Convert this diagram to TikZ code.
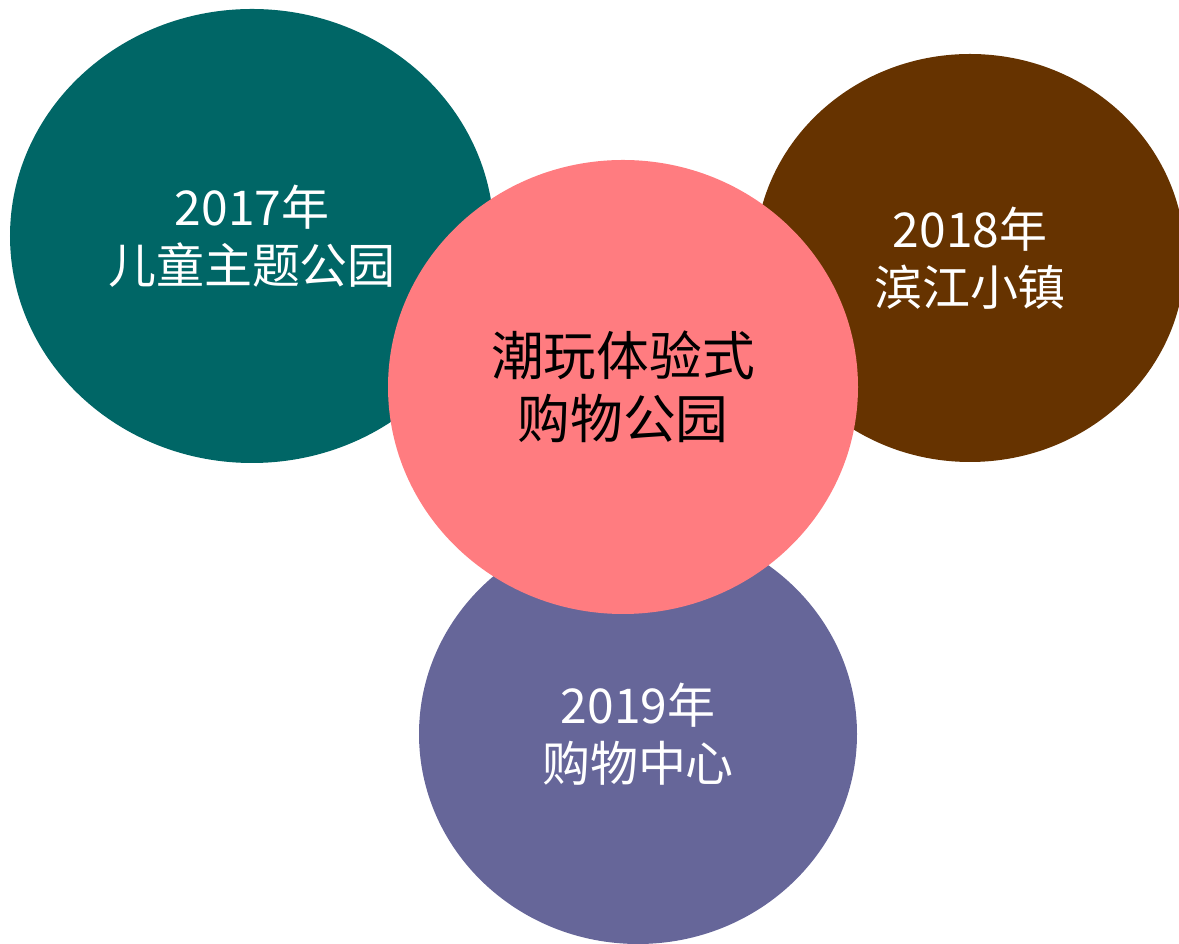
\documentclass[tikz,border=0pt]{standalone}
\usepackage{fontspec}
\setmainfont{Noto Sans CJK SC}
\usetikzlibrary{shapes.geometric}

\definecolor{parkteal}{HTML}{006666}
\definecolor{riverbrown}{HTML}{663300}
\definecolor{mallpurple}{HTML}{666699}
\definecolor{hubpink}{HTML}{FF7C80}

\begin{document}
\begin{tikzpicture}[
		stage/.style={ellipse, inner sep=0pt, draw=none, align=center, text=white,
			font=\fontsize{27.3pt}{33pt}\selectfont},
		hub/.style={stage, text=black, font=\fontsize{30pt}{35.8pt}\selectfont}
	]
		\useasboundingbox (0,0) rectangle (23.58,18.88);
		\clip (0,0) rectangle (23.58,18.88);

		\coordinate (c2017) at (5.04, 14.16);
		\coordinate (c2018) at (19.40, 13.72);
		\coordinate (c2019) at (12.76, 4.20);
		\coordinate (hub) at (12.46, 11.14);

		% draw the three stages
		\node at (c2017)[stage, fill=parkteal, minimum width=9.68cm, minimum height=9.08cm] (kids) {2017年\\儿童主题公园};
		\node at (c2018)[stage, fill=riverbrown, minimum width=8.6cm, minimum height=8.16cm] (town) {2018年\\滨江小镇};
		\node at (c2019)[stage, fill=mallpurple, minimum width=8.76cm, minimum height=8.4cm] (mall) {2019年\\购物中心};

		% draw the centre on top
		\node at (hub)[hub, fill=hubpink, minimum width=9.4cm, minimum height=9.08cm] (park) {潮玩体验式\\购物公园};
\end{tikzpicture}
\end{document}
